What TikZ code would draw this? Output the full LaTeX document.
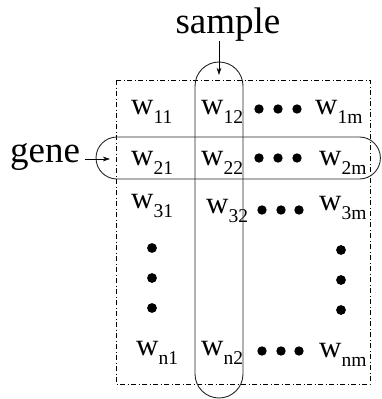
\documentclass[tikz,border=0pt]{standalone}
\usepackage{fontspec}
\setmainfont{Liberation Serif}
\usetikzlibrary{arrows.meta}

% one matrix entry: big w with its index set low at its right side
\newcommand{\wij}[1]{{\fontsize{31}{31}\selectfont w}\raisebox{-9.5pt}{\fontsize{19.5}{19.5}\selectfont #1}}

\begin{document}
\begin{tikzpicture}[x=1pt,y=-1pt,
    entry/.style={anchor=base west,inner sep=0pt},
    label/.style={inner sep=0pt,font=\fontsize{37}{37}\selectfont},
    pill/.style={line width=0.9pt,black!85},
    frame/.style={line width=0.6pt,dash pattern=on 5pt off 2.5pt on 1pt off 2.5pt},
    dot/.style={fill=black,draw=none},
    tip/.style={-{Stealth[length=7pt,width=4.5pt,inset=2pt]},line width=0.6pt}]
        \useasboundingbox (0,0) rectangle (381,399);

        % frame of the matrix
        \draw[frame] (116,80) rectangle (370,384);

        % entries
        \node[entry] (w11) at (131,114) {\wij{11}};
        \node[entry] (w12) at (201,114) {\wij{12}};
        \node[entry] (w1m) at (315,114) {\wij{1m}};

        \node[entry] (w21) at (131,165) {\wij{21}};
        \node[entry] (w22) at (201,165) {\wij{22}};
        \node[entry] (w2m) at (319,165) {\wij{2m}};

        \node[entry] (w31) at (131,208) {\wij{31}};
        \node[entry] (w32) at (206,213) {\wij{32}};
        \node[entry] (w3m) at (319,210) {\wij{3m}};

        \node[entry] (wn1) at (136,355) {\wij{n1}};
        \node[entry] (wn2) at (201,355) {\wij{n2}};
        \node[entry] (wnm) at (319,357) {\wij{nm}};

        % dots
        \foreach \x in {259,278,297} {
            \fill[dot] (\x,109) circle (4.7);
            \fill[dot] (\x,158) circle (4.7);
        }
        \foreach \x in {262,281,299} {
            \fill[dot] (\x,210) circle (4.7);
            \fill[dot] (\x,351) circle (4.7);
        }
        \foreach \y in {248,278,308} \fill[dot] (152,\y) circle (4.9);
        \foreach \y in {250,280,310} \fill[dot] (341,\y) circle (4.9);

        % sample column and gene row
        \draw[pill,rounded corners=24] (195,62) rectangle (243,398);
        \draw[pill,rounded corners=21] (96,137) rectangle (380.4,179);

        % labels
        \node[label,anchor=base] (sample) at (228,33) {sample};
        \node[label,anchor=base west] (gene) at (10,162) {gene};
        \coordinate (sampletip) at (219,75);
        \coordinate (genetip) at (110,159);
        \draw[tip] (sampletip |- sample.south) -- (sampletip);
        \draw[tip] ([xshift=5pt]gene.east |- genetip) -- (genetip);
    \end{tikzpicture}
\end{document}
